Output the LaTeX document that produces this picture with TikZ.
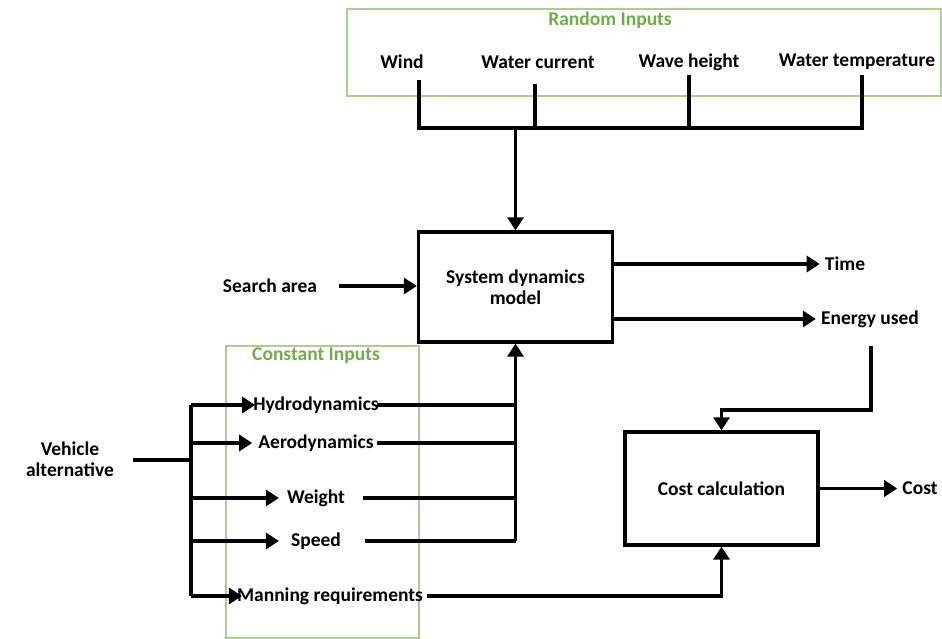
\documentclass[tikz,border=0pt]{standalone}
\usepackage{fontspec}
\setmainfont{Carlito}
\usetikzlibrary{arrows.meta}
\definecolor{grpline}{HTML}{A9D18E}
\definecolor{grptitle}{HTML}{70AD47}
\begin{document}
\begin{tikzpicture}[x=1pt,y=-1pt,
  lbl/.style={font=\bfseries\fontsize{19.5}{21}\selectfont, inner sep=0pt, align=center},
  grptitle/.style={lbl, text=grptitle},
  grpbox/.style={draw=grpline, line width=1.1pt},
  blk/.style={lbl, draw, line width=3.3pt},
  wire/.style={line width=3.3pt},
  flow/.style={wire, -{Triangle[length=13pt,width=16pt]}},
]
\useasboundingbox (0,0) rectangle (942,639);

% group frames
\draw[grpbox] (347,9) rectangle (941,96);
\node[grptitle] (rtitle) at (610,20) {Random Inputs};
\draw[grpbox] (226,346) rectangle (419,638);
\node[grptitle] (ctitle) at (316,356) {Constant Inputs};

% random inputs
\node[lbl] (wind) at (402,62) {Wind};
\node[lbl] (current) at (538,62) {Water current};
\node[lbl] (wave) at (689,62) {Wave height};
\node[lbl] (temp) at (857,62) {Water temperature};

% main blocks
\node[blk, minimum width=194pt, minimum height=110pt] (sdm) at (515.5,287) {System dynamics\\model};
\node[blk, minimum width=193pt, minimum height=113pt] (cost) at (721.5,488.5) {Cost calculation};

% outputs and other inputs
\node[lbl] (search) at (270,286) {Search area};
\node[lbl] (time) at (845,264) {Time};
\node[lbl] (energy) at (870,319) {Energy used};
\node[lbl] (costout) at (920,488.5) {Cost};
\node[lbl] (vehicle) at (70,459) {Vehicle\\alternative};

% constant inputs
\node[lbl] (hydro) at (316,405) {Hydrodynamics};
\node[lbl] (aero) at (316,443) {Aerodynamics};
\node[lbl] (weight) at (316,498) {Weight};
\node[lbl] (speed) at (316,541) {Speed};
\node[lbl] (manning) at (330,596) {Manning requirements};

% random-input bus
\coordinate (w1) at (419,80);
\coordinate (w2) at (535,84);
\coordinate (w3) at (689,75);
\coordinate (w4) at (862,75);
\coordinate (busL) at (419,128);
\coordinate (busR) at (862,128);
\draw[wire] (w1) -- (busL) -- (busR) -- (w4);
\draw[wire] (w2) -- (w2 |- busL);
\draw[wire] (w3) -- (w3 |- busL);
\draw[flow] (sdm.north |- busL) -- (sdm.north);

% search area
\draw[flow] ([xshift=22pt]search.east) -- (sdm.west |- search.east);

% outputs of the dynamics model
\draw[flow] (sdm.east |- time.west) -- ([xshift=-5pt]time.west);
\draw[flow] (sdm.east |- energy.west) -- ([xshift=-5pt]energy.west);

% energy to cost
\coordinate (e1) at (871,346);
\coordinate (e2) at (871,410);
\draw[flow] (e1) -- (e2) -- (cost.north |- e2) -- (cost.north);

% cost output
\draw[flow] (cost.east) -- ([xshift=-5pt]costout.west);

% vehicle alternative fan-out
\coordinate (trunkT) at (191,405);
\coordinate (trunkB) at (191,596);
\coordinate (vin) at (191,460);
\draw[wire] (133,460) coordinate (vstart) -- (vin);
\draw[wire] (trunkT) -- (trunkB);
\draw[flow] (trunkT) -- ([xshift=2pt]hydro.west);
\draw[flow] (trunkT |- aero.west) -- ([xshift=-6pt]aero.west);
\draw[flow] (trunkT |- weight.west) -- ([xshift=-8pt]weight.west);
\draw[flow] (trunkT |- speed.west) -- ([xshift=-12pt]speed.west);
\draw[flow] (trunkB) -- ([xshift=5pt]manning.west);

% constant inputs into the dynamics model
\coordinate (colB) at (sdm.south |- speed.east);
\draw[wire] ([xshift=-2pt]hydro.east) -- (sdm.south |- hydro.east);
\draw[wire] ([xshift=3pt]aero.east) -- (sdm.south |- aero.east);
\draw[wire] ([xshift=18pt]weight.east) -- (sdm.south |- weight.east);
\draw[wire] ([xshift=24pt]speed.east) -- (colB);
\draw[flow] (colB) -- (sdm.south);

% manning requirements to cost
\draw[flow] ([xshift=4pt]manning.east) -- (cost.south |- manning.east) -- (cost.south);
\end{tikzpicture}
\end{document}
